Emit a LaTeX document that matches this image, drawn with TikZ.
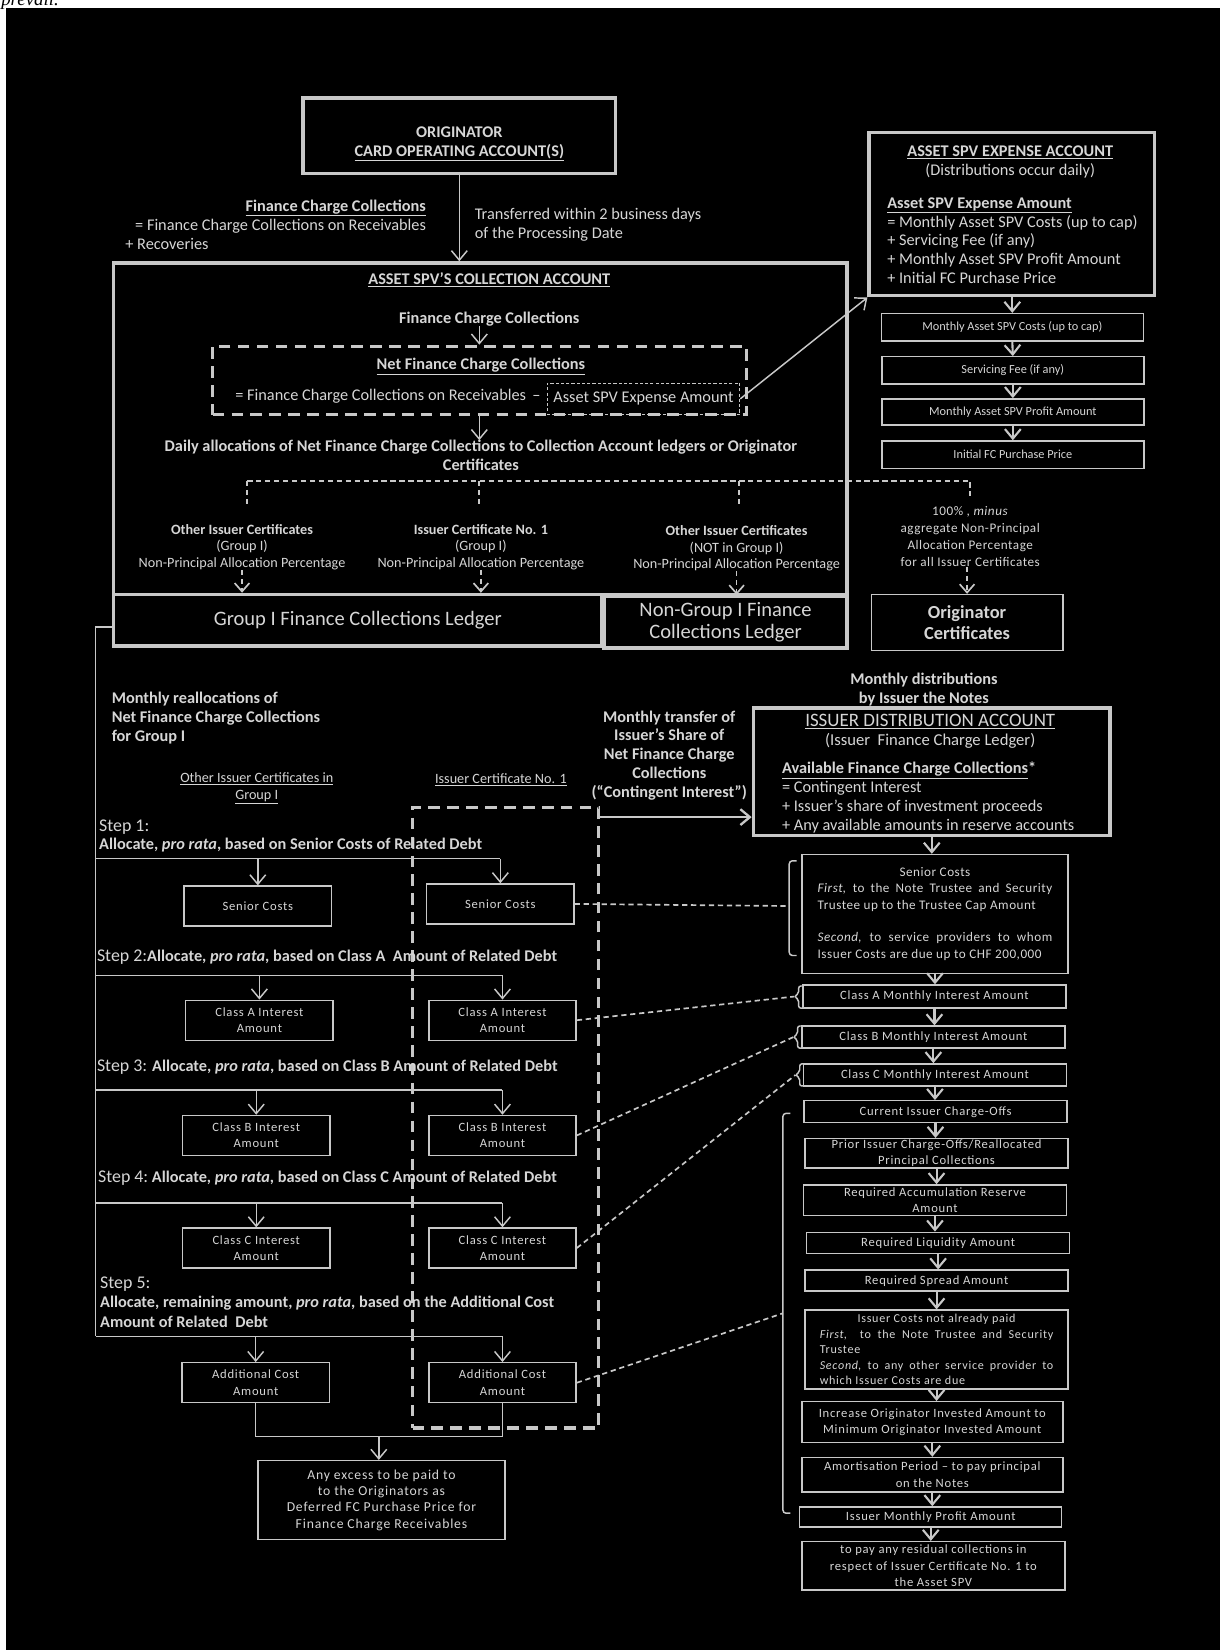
\documentclass[tikz,border=0pt]{standalone}
\usepackage{fontspec}
\setmainfont{Carlito}
\newfontfamily\prevfont{Liberation Serif}
\usetikzlibrary{arrows.meta,positioning}

\definecolor{lgray}{HTML}{C8C8C8}
\definecolor{tgray}{HTML}{D6D6D6}
\newcommand{\fsz}[2]{\fontsize{#1}{#2}\selectfont}
\newcommand{\spaced}{\addfontfeature{LetterSpace=6}}

\tikzset{
  every node/.style={text=tgray, inner sep=0pt},
  acct/.style={draw=lgray, line width=3.4pt},
  pbox/.style={draw=lgray, line width=1.3pt, align=center},
  sbox/.style={pbox, minimum width=140pt, minimum height=38pt, font=\spaced\fsz{12}{15.5}},
  wbox/.style={pbox, minimum width=250pt, font=\spaced\fsz{12}{15.5}},
  ebox/.style={pbox, minimum width=249pt, minimum height=26pt, font=\fsz{11.7}{14}},
  bodytxt/.style={font=\fsz{15.5}{18}},
  boldtxt/.style={font=\bfseries\fsz{15.5}{18}},
  conn/.style={draw=lgray, line width=1.4pt},
  flow/.style={conn, -{Straight Barb[length=9pt,width=15pt]}},
  wflow/.style={draw=lgray, line width=2pt, -{Straight Barb[length=9pt,width=15pt]}},
  dconn/.style={draw=lgray, line width=1.6pt, dash pattern=on 5pt off 3.5pt},
  dflow/.style={dconn, -{Straight Barb[length=8pt,width=14pt]}},
  bigdash/.style={draw=lgray, line width=3pt, dash pattern=on 11pt off 7pt},
}

\begin{document}
\begin{tikzpicture}[x=1pt,y=-1pt]
\useasboundingbox (0,0) rectangle (1159,1568);
\fill[white] (0,0) rectangle (1159,1568);
\node[anchor=base west, text=black, font=\prevfont\itshape\fsz{18}{20}] (prev) at (1,5.5) {prevail.};
\fill[black] (6,8) rectangle (1159,1568);

% originator and collection account
\node[acct, minimum width=297pt, minimum height=72pt] (orig) at (436.5,129) {};
\node[boldtxt, align=center] (origtxt) at (436.5,137) {ORIGINATOR\\\underline{CARD OPERATING ACCOUNT(S)}};
\node[acct, minimum width=697pt, minimum height=315pt] (coll) at (456.5,407.5) {};
\draw[flow] (orig.south) -- (orig.south |- coll.north);

\node[bodytxt, align=right, anchor=east] (fcctxt) at (405,205.5) {\textbf{\underline{Finance Charge Collections}}\\= Finance Charge Collections on Receivables};
\node[bodytxt, anchor=west] (rectxt) at (119,232) {+ Recoveries};
\node[bodytxt, align=left, anchor=west] (transtxt) at (451,214) {Transferred within 2 business days\\of the Processing Date};

\node[boldtxt] (colltitle) at (465,266) {\underline{ASSET SPV’S COLLECTION ACCOUNT}};
\node[boldtxt] (fccin) at (465,303) {Finance Charge Collections};
\node[bigdash, minimum width=507pt, minimum height=65pt] (net) at (455.5,361.5) {};
\draw[flow] (fccin.south -| net.north) -- (net.north);
\node[boldtxt] (nettitle) at (457,348) {\underline{Net Finance Charge Collections}};
\node[bodytxt, anchor=east] (netdef) at (514,377) {= Finance Charge Collections on Receivables\ \,–};
\node[draw=lgray, line width=1pt, dash pattern=on 3pt off 2pt, minimum width=183pt, minimum height=30pt, bodytxt] (expamt) at (611.5,379) {Asset SPV Expense Amount};
\node[boldtxt, align=center] (daily) at (457,433) {Daily allocations of Net Finance Charge Collections to Collection Account ledgers or Originator\\Certificates};
\draw[flow] (net.south) -- (net.south |- daily.north);

\coordinate (brA) at (235,457);
\coordinate (brB) at (455,457);
\coordinate (brC) at (702,457);
\coordinate (brD) at (922,457);
\draw[dconn] (brA) -- (brD) -- ++(0,14);
\draw[dconn] (brA) -- ++(0,25);
\draw[dconn] (brB) -- ++(0,25);
\draw[dconn] (brC) -- ++(0,25);

\node[font=\fsz{13.5}{15.5}, align=center] (oicA) at (230,520) {\textbf{Other Issuer Certificates}\\(Group I)\\Non-Principal Allocation Percentage};
\node[font=\fsz{13.5}{15.5}, align=center] (icA) at (457,520) {\textbf{Issuer Certificate No. 1}\\(Group I)\\Non-Principal Allocation Percentage};
\node[font=\fsz{13.5}{15.5}, align=center] (oicB) at (700,521) {\textbf{Other Issuer Certificates}\\(NOT in Group I)\\Non-Principal Allocation Percentage};
\node[font=\addfontfeature{LetterSpace=4}\fsz{12.5}{16}, align=center] (pct) at (922,510) {100\% , \textit{minus}\\aggregate Non-Principal\\Allocation Percentage\\for all Issuer Certificates};

\node[acct, minimum width=464pt, minimum height=49pt, font=\fsz{19.5}{21}] (g1led) at (340,589.5) {Group I Finance Collections Ledger};
\node[acct, minimum width=231pt, minimum height=49pt, font=\fsz{19.5}{21}, align=center] (ng1led) at (689.5,591.5) {Non-Group I Finance\\Collections Ledger};
\node[pbox, minimum width=182pt, minimum height=53pt, font=\bfseries\fsz{17.5}{20}] (origc) at (919,591.5) {Originator\\Certificates};
\draw[dflow] (oicA.south) -- (oicA.south |- g1led.north);
\draw[dflow] (icA.south) -- (icA.south |- g1led.north);
\draw[dflow] (oicB.south) -- (oicB.south |- ng1led.north);
\draw[dflow] (pct.south -| origc.north) -- (origc.north);

% asset spv expense account
\node[acct, minimum width=271pt, minimum height=155pt] (expacct) at (961.5,203.5) {};
\node[bodytxt, align=center] (exptitle) at (960,154) {\textbf{\underline{ASSET SPV EXPENSE ACCOUNT}}\\(Distributions occur daily)};
\node[font=\fsz{15.5}{17.8}, align=left, anchor=west] (expdef) at (843,228.5) {\textbf{\underline{Asset SPV Expense Amount}}\\= Monthly Asset SPV Costs (up to cap)\\+ Servicing Fee (if any)\\+ Monthly Asset SPV Profit Amount\\+ Initial FC Purchase Price};
\draw[flow] (expamt.east) -- (expacct.south west);

\node[ebox] (ec1) at (962,311) {Monthly Asset SPV Costs (up to cap)};
\node[ebox] (ec2) at (962.5,352) {Servicing Fee (if any)};
\node[ebox, minimum height=25pt] (ec3) at (962.5,391.5) {Monthly Asset SPV Profit Amount};
\node[ebox] (ec4) at (962.5,432) {Initial FC Purchase Price};
\draw[wflow] (expacct.south -| ec1.north) -- (ec1.north);
\draw[wflow] (ec1.south) -- (ec2.north);
\draw[wflow] (ec2.south) -- (ec3.north);
\draw[wflow] (ec3.south) -- (ec4.north);

% monthly reallocation for group I
\node[boldtxt, align=left, anchor=west] (realloc) at (106,682) {Monthly reallocations of\\Net Finance Charge Collections\\for Group I};
\node[font=\fsz{13.5}{16}, align=center] (oicgrp) at (244,749) {\underline{Other Issuer Certificates in}\\\underline{Group I}};
\node[font=\fsz{13.5}{16}] (ichead) at (476,741) {\underline{Issuer Certificate No. 1}};
\node[boldtxt, align=center] (ctxt) at (636,718) {Monthly transfer of\\Issuer’s Share of\\Net Finance Charge\\Collections\\(“Contingent Interest”)};
\node[boldtxt, align=center] (mdist) at (878,655) {Monthly distributions\\by Issuer the Notes};

\node[bigdash, minimum width=177pt, minimum height=590pt] (iccol) at (480.5,1062) {};

\node[anchor=west, align=left, font=\fsz{15.5}{17}] (s1txt) at (94,794.5) {{\fsz{17}{17}Step 1:}\\\textbf{Allocate, \textit{pro rata}, based on Senior Costs of Related Debt}};
\node[anchor=west, font=\fsz{15.5}{17}] (s2txt) at (92,910) {{\fsz{17}{17}Step 2:}\textbf{Allocate, \textit{pro rata}, based on Class A\ \ Amount of Related Debt}};
\node[anchor=west, font=\fsz{15.5}{17}] (s3txt) at (92,1014) {{\fsz{17}{17}Step 3:} \textbf{Allocate, \textit{pro rata}, based on Class B Amount of Related Debt}};
\node[anchor=west, font=\fsz{15.5}{17}] (s4txt) at (93,1120) {{\fsz{17}{17}Step 4:}\ \textbf{Allocate, \textit{pro rata}, based on Class C Amount of Related Debt}};
\node[anchor=west, align=left, font=\fsz{15.5}{18.5}] (s5txt) at (95,1237.5) {{\fsz{17}{17}Step 5:}\\\textbf{Allocate, remaining amount, \textit{pro rata}, based on the Additional Cost}\\\textbf{Amount of Related\ \ Debt}};

\node[sbox] (sc1) at (245,861) {Senior Costs};
\node[sbox] (sc2) at (475.5,859) {Senior Costs};
\node[sbox] (ca1) at (246.5,969.5) {Class A Interest\\Amount};
\node[sbox] (ca2) at (477.5,969.5) {Class A Interest\\Amount};
\node[sbox] (cb1) at (243.5,1079) {Class B Interest\\Amount};
\node[sbox] (cb2) at (477.5,1079) {Class B Interest\\Amount};
\node[sbox] (cc1) at (243.5,1186) {Class C Interest\\Amount};
\node[sbox] (cc2) at (477.5,1186) {Class C Interest\\Amount};
\node[sbox] (ad1) at (243,1314) {Additional Cost\\Amount};
\node[sbox] (ad2) at (477.5,1314) {Additional Cost\\Amount};

\coordinate (st1) at (91,816);
\coordinate (st2) at (91,927);
\coordinate (st3) at (91,1036);
\coordinate (st4) at (91,1143);
\coordinate (st5) at (91,1270);
\draw[conn] ([yshift=-6.5pt]g1led.west) -| (st5);
\draw[conn] (st1) -- (st1 -| sc2.north);
\draw[conn] (st2) -- (st2 -| ca2.north);
\draw[conn] (st3) -- (st3 -| cb2.north);
\draw[conn] (st4) -- (st4 -| cc2.north);
\draw[conn] (st5) -- (st5 -| ad2.north);
\draw[flow] (st1 -| sc1.north) -- (sc1.north);
\draw[flow] (st1 -| sc2.north) -- (sc2.north);
\draw[flow] (st2 -| ca1.north) -- (ca1.north);
\draw[flow] (st2 -| ca2.north) -- (ca2.north);
\draw[flow] (st3 -| cb1.north) -- (cb1.north);
\draw[flow] (st3 -| cb2.north) -- (cb2.north);
\draw[flow] (st4 -| cc1.north) -- (cc1.north);
\draw[flow] (st4 -| cc2.north) -- (cc2.north);
\draw[flow] (st5 -| ad1.north) -- (ad1.north);
\draw[flow] (st5 -| ad2.north) -- (ad2.north);

\node[pbox, minimum width=235pt, minimum height=75pt, font=\spaced\fsz{13}{15.6}] (excess) at (362.5,1425.5) {Any excess to be paid to\\to the Originators as\\Deferred FC Purchase Price for\\Finance Charge Receivables};
\coordinate (join) at (360,1365);
\draw[conn] (ad1.south) |- (join) -| (ad2.south);
\draw[flow] (join) -- (join |- excess.north);

% issuer distribution account
\node[acct, minimum width=339pt, minimum height=121pt] (isacct) at (885.5,733.5) {};
\node[font=\fsz{15.8}{18}, align=center] (istitle) at (884,695) {{\fsz{18}{18}\underline{ISSUER DISTRIBUTION ACCOUNT}}\\(Issuer\ \ Finance Charge Ledger)};
\node[bodytxt, align=left, anchor=west] (isdef) at (743,758) {\textbf{\underline{Available Finance Charge Collections}*}\\= Contingent Interest\\+ Issuer’s share of investment proceeds\\+ Any available amounts in reserve accounts};
\coordinate (ctstart) at ([yshift=-11pt]iccol.north east);
\draw[flow, line width=2.2pt] (ctstart) -- (ctstart -| isacct.west);

\node[pbox, minimum width=253pt, minimum height=113pt, text width=223pt, align=justify, font=\addfontfeature{LetterSpace=4}\fsz{12.5}{15.8}] (wsen) at (888.5,868.5) {{\centering Senior Costs\par}\textit{First}, to the Note Trustee and Security\linebreak Trustee up to the Trustee Cap Amount\par\vspace{15pt}\textit{Second}, to service providers to whom\linebreak Issuer Costs are due up to CHF 200,000};
\node[wbox, minimum height=22pt] (wa) at (888,947) {Class A Monthly Interest Amount};
\node[wbox, minimum height=21pt] (wb) at (887,985.5) {Class B Monthly Interest Amount};
\node[wbox, minimum height=21pt] (wc) at (888.5,1021.5) {Class C Monthly Interest Amount};
\node[wbox, minimum height=21pt] (wco) at (889,1056.5) {Current Issuer Charge-Offs};
\node[wbox, minimum height=28pt] (wpr) at (890,1096) {Prior Issuer Charge-Offs/Reallocated\\Principal Collections};
\node[wbox, minimum height=29pt] (wac) at (888.5,1140.5) {Required Accumulation Reserve\\Amount};
\node[wbox, minimum height=20pt] (wli) at (891.5,1181) {Required Liquidity Amount};
\node[wbox, minimum height=20pt] (wsp) at (890,1217) {Required Spread Amount};
\node[pbox, minimum width=250pt, minimum height=75pt, text width=222pt, align=justify, font=\spaced\fsz{11.5}{14.8}] (wic) at (890,1282.5) {{\centering Issuer Costs not already paid\par}\textit{First},\ \ to the Note Trustee and Security\linebreak Trustee\par\textit{Second}, to any other service provider to\linebreak which Issuer Costs are due};
\node[wbox, minimum width=248pt, minimum height=39pt] (wor) at (886,1351.5) {Increase Originator Invested Amount to\\Minimum Originator Invested Amount};
\node[wbox, minimum width=248pt, minimum height=33pt] (wam) at (886,1401.5) {Amortisation Period – to pay principal\\on the Notes};
\node[wbox, minimum width=249pt, minimum height=19pt] (wpf) at (884.5,1441.5) {Issuer Monthly Profit Amount};
\node[wbox, minimum height=46pt] (wres) at (887,1488) {to pay any residual collections in\\respect of Issuer Certificate No. 1 to\\the Asset SPV};

\draw[wflow] (isacct.south) -- (isacct.south |- wsen.north);
\draw[wflow] (wsen.south) -- (wsen.south |- wa.north);
\draw[wflow] (wa.south) -- (wa.south |- wb.north);
\draw[wflow] (wb.south) -- (wb.south |- wc.north);
\draw[wflow] (wc.south) -- (wc.south |- wco.north);
\draw[wflow] (wco.south) -- (wco.south |- wpr.north);
\draw[wflow] (wpr.south) -- (wpr.south |- wac.north);
\draw[wflow] (wac.south) -- (wac.south |- wli.north);
\draw[wflow] (wli.south) -- (wli.south |- wsp.north);
\draw[wflow] (wsp.south) -- (wsp.south |- wic.north);
\draw[wflow] (wic.south) -- (wic.south |- wor.north);
\draw[wflow] (wor.south) -- (wor.south |- wam.north);
\draw[wflow] (wam.south) -- (wam.south |- wpf.north);
\draw[wflow] (wpf.south) -- (wpf.south |- wres.north);

% brackets and links to the issuer waterfall
\coordinate (bsen) at (750,861);
\coordinate (ba) at (755,947);
\coordinate (bb) at (754,985.5);
\coordinate (bc) at (756,1021.5);
\coordinate (bbig) at (744,1248);
\draw[conn, rounded corners=3pt] (757,818) -- (750,818) -- (750,908) -- (757,908);
\draw[conn, rounded corners=2pt] (763,937) -- (759,937) -- (759,944) -- (ba) -- (759,950) -- (759,958) -- (763,958);
\draw[conn, rounded corners=2pt] (762,975) -- (758,975) -- (758,982.5) -- (bb) -- (758,988.5) -- (758,996) -- (762,996);
\draw[conn, rounded corners=2pt] (764,1011) -- (760,1011) -- (760,1018.5) -- (bc) -- (760,1024.5) -- (760,1032) -- (764,1032);
\draw[conn, rounded corners=3pt] (751,1058) -- (744,1058) -- (744,1438) -- (751,1438);
\draw[dconn] (sc2.east) -- (bsen);
\draw[dconn] (ca2.east) -- (ba);
\draw[dconn] (cb2.east) -- (bb);
\draw[dconn] (cc2.east) -- (bc);
\draw[dconn] (ad2.east) -- (bbig);
\end{tikzpicture}
\end{document}
